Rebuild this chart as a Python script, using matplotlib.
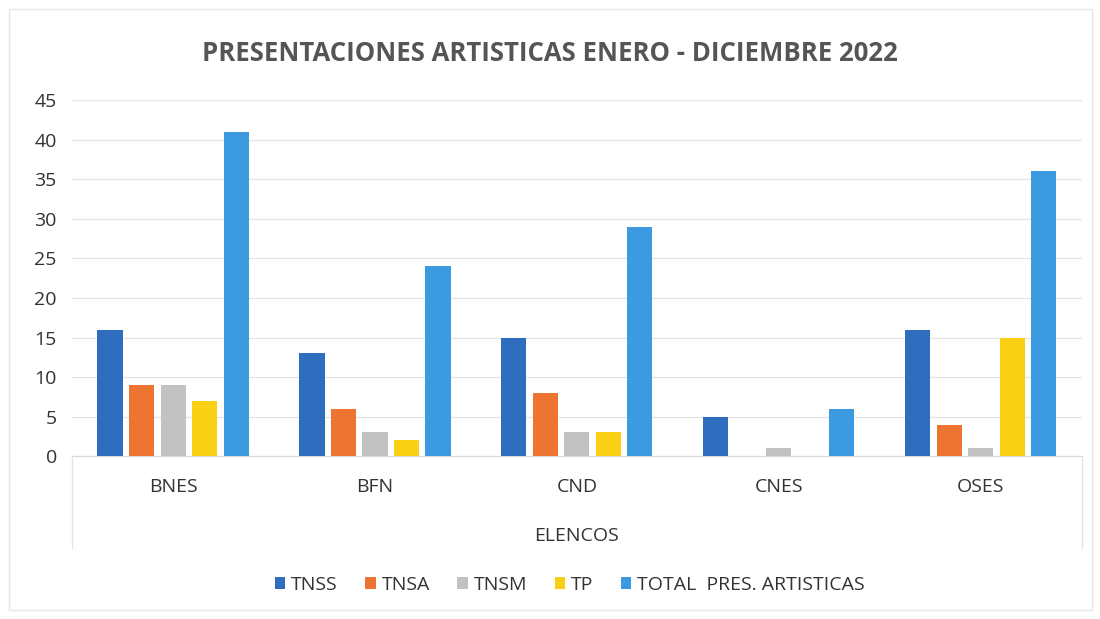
import matplotlib
matplotlib.use('Agg')
import matplotlib.pyplot as plt
import numpy as np

# Data
elencos = ['BNES', 'BFN', 'CND', 'CNES', 'OSES']
series_names = ['TNSS', 'TNSA', 'TNSM', 'TP', 'TOTAL  PRES. ARTISTICAS']
tnss = [16, 13, 15, 5, 16]
tnsa = [9, 6, 8, 0, 4]
tnsm = [9, 3, 3, 1, 1]
tp = [7, 2, 3, 0, 15]
total = [41, 24, 29, 6, 36]
colours = ['#2F6EBF', '#EE7432', '#C2C2C2', '#F9D014', '#3C9BE0']

plt.rcParams['font.family'] = ['Open Sans', 'DejaVu Sans']

fig = plt.figure(figsize=(11, 6.19), dpi=100)
ax = fig.add_axes([0.0655, 0.263, 0.918, 0.575])

x = np.arange(len(elencos))
width = 0.124
pitch = 0.156
for k, vals in enumerate([tnss, tnsa, tnsm, tp, total]):
    ax.bar(x + (k - 2) * pitch, vals, width, color=colours[k], label=series_names[k], zorder=3)

ax.set_xlim(-0.5, 4.5)
ax.set_ylim(0, 45)
ax.set_yticks(range(0, 46, 5))
ax.grid(axis='y', color='#E3E3E3', linewidth=0.9, zorder=0)
for s in ['top', 'right', 'left']:
    ax.spines[s].set_visible(False)
ax.spines['bottom'].set_color('#D9D9D9')
ax.tick_params(axis='both', length=0, labelsize=14, labelcolor='#333333')
ax.tick_params(axis='x', pad=16)
ax.tick_params(axis='y', pad=11)
ax.set_xticks(x)
ax.set_xticklabels(elencos)
ax.set_xlabel('ELENCOS', fontsize=14, color='#333333', labelpad=22)

# category box edges below the axis
for xe in [-0.5, 4.5]:
    ax.plot([xe, xe], [0, -11.6], color='#E3E3E3', linewidth=0.9, clip_on=False)

fig.text(0.5, 0.913, 'PRESENTACIONES ARTISTICAS ENERO - DICIEMBRE 2022', ha='center', va='center',
         fontsize=18.5, fontweight='bold', color='#555555')

fig.legend(loc='center', bbox_to_anchor=(0.518, 0.055), ncol=5, frameon=False, fontsize=14,
           handlelength=0.55, handleheight=0.55, handletextpad=0.3, columnspacing=1.4,
           labelcolor='#333333')

# light frame around the chart
fig.patches.append(plt.Rectangle((0.008, 0.015), 0.985, 0.97, transform=fig.transFigure,
                                 fill=False, edgecolor='#E6E6E6', linewidth=1))

fig.savefig('out.png', dpi=100, facecolor='white')
